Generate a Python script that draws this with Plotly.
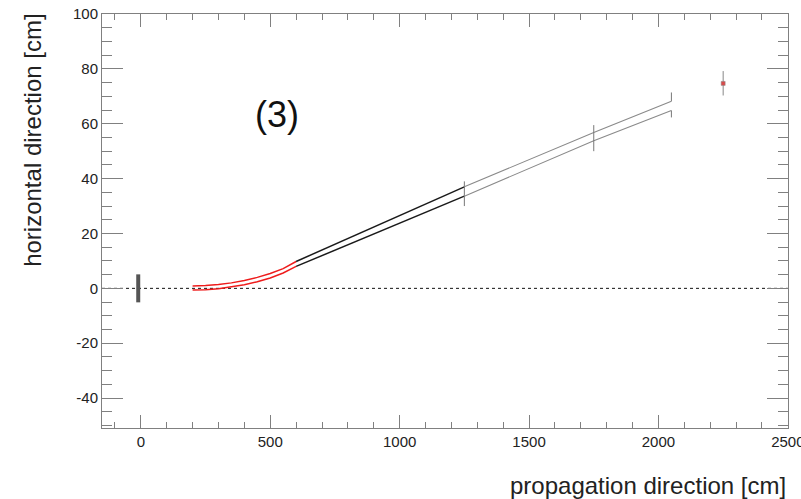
import plotly.graph_objects as go

# ---- data ----
red_x = [200, 250, 300, 350, 400, 450, 500, 550, 600]
red_upper = [0.9, 1.0, 1.4, 2.0, 2.9, 4.0, 5.4, 7.2, 9.8]
red_lower = [-0.6, -0.5, -0.1, 0.5, 1.3, 2.4, 3.8, 5.6, 8.0]

black_x = [600, 1250]
black_upper = [9.8, 37.0]
black_lower = [8.0, 33.6]

grey_x = [1250, 1750, 2050]
grey_upper = [37.0, 56.8, 68.2]
grey_lower = [33.6, 53.8, 64.8]

plane_x = [1250, 1750]
plane_lo = [30.0, 50.0]
plane_hi = [39.0, 59.5]

end_x = 2050
end_upper_seg = [68.2, 71.4]
end_lower_seg = [62.3, 64.8]

det_x = 2250
det_y = 74.7
det_lo = 70.3
det_hi = 79.2

src_x = -10
src_lo = -5.1
src_hi = 5.1

axis_x = [-150, 2500]
axis_y = [0, 0]

x_range = [-150, 2500.5]
y_range = [-50.9, 100]
x_tickvals = [0, 500, 1000, 1500, 2000, 2500]
x_ticktext = ["0", "500", "1000", "1500", "2000", "2500"]
y_tickvals = [-40, -20, 0, 20, 40, 60, 80, 100]
y_ticktext = ["-40", "-20", "0", "20", "40", "60", "80", "100"]
label_text = "(3)"
label_x = 526
label_y = 63.5

fig = go.Figure()

# dotted reference axis
fig.add_trace(go.Scatter(x=axis_x, y=axis_y, mode="lines",
                         line=dict(color="#111111", width=1, dash="dot")))
# source bar
fig.add_trace(go.Scatter(x=[src_x, src_x], y=[src_lo, src_hi], mode="lines",
                         line=dict(color="#555555", width=4)))
# red curved section
for ys in (red_upper, red_lower):
    fig.add_trace(go.Scatter(x=red_x, y=ys, mode="lines",
                             line=dict(color="#ee1c1c", width=1.5)))
# black straight section
for ys in (black_upper, black_lower):
    fig.add_trace(go.Scatter(x=black_x, y=ys, mode="lines",
                             line=dict(color="#1a1a1a", width=1.5)))
# grey straight section
for ys in (grey_upper, grey_lower):
    fig.add_trace(go.Scatter(x=grey_x, y=ys, mode="lines",
                             line=dict(color="#8a8a8a", width=1.1)))
# planes
for px, lo, hi in zip(plane_x, plane_lo, plane_hi):
    fig.add_trace(go.Scatter(x=[px, px], y=[lo, hi], mode="lines",
                             line=dict(color="#777777", width=1)))
for seg in (end_upper_seg, end_lower_seg):
    fig.add_trace(go.Scatter(x=[end_x, end_x], y=seg, mode="lines",
                             line=dict(color="#777777", width=1)))
# detector
fig.add_trace(go.Scatter(x=[det_x, det_x], y=[det_lo, det_hi], mode="lines",
                         line=dict(color="#888888", width=1)))
fig.add_trace(go.Scatter(x=[det_x], y=[det_y], mode="markers",
                         marker=dict(symbol="square", size=4, color="#d84a4a",
                                     line=dict(color="#888888", width=0.5))))

axis_common = dict(showgrid=False, zeroline=False, showline=True,
                   linecolor="#808080", linewidth=1, mirror="ticks",
                   ticks="inside", tickcolor="#808080", tickwidth=1,
                   tickmode="array", ticklabeloverflow="allow", automargin=False,
                   tickfont=dict(family="Liberation Sans, Arial", size=15, color="#222222"))

fig.update_xaxes(range=x_range, tickvals=x_tickvals, ticktext=x_ticktext, ticklen=13,
                 minor=dict(tick0=0, dtick=100, ticklen=6, ticks="inside", tickcolor="#808080"),
                 **axis_common)
fig.update_yaxes(range=y_range, tickvals=y_tickvals, ticktext=y_ticktext, ticklen=21,
                 minor=dict(tick0=0, dtick=5, ticklen=10, ticks="inside", tickcolor="#808080"),
                 **axis_common)

fig.add_annotation(text=label_text, x=label_x, y=label_y, xref="x", yref="y",
                   showarrow=False, xanchor="center", yanchor="middle",
                   font=dict(family="Liberation Sans, Arial", size=36, color="#111111"))
fig.add_annotation(text="propagation direction [cm]", x=1.0, y=-0.138,
                   xref="paper", yref="paper", showarrow=False,
                   xanchor="right", yanchor="middle",
                   font=dict(family="Liberation Sans, Arial", size=24, color="#222222"))
fig.add_annotation(text="horizontal direction [cm]", x=-0.1006, y=0.696,
                   xref="paper", yref="paper", showarrow=False, textangle=-90,
                   xanchor="center", yanchor="middle",
                   font=dict(family="Liberation Sans, Arial", size=24, color="#222222"))

fig.update_layout(width=801, height=499, showlegend=False,
                  margin=dict(l=102, r=13, t=14, b=71, pad=0, autoexpand=False),
                  plot_bgcolor="white", paper_bgcolor="white")

fig.write_html("out.html")
